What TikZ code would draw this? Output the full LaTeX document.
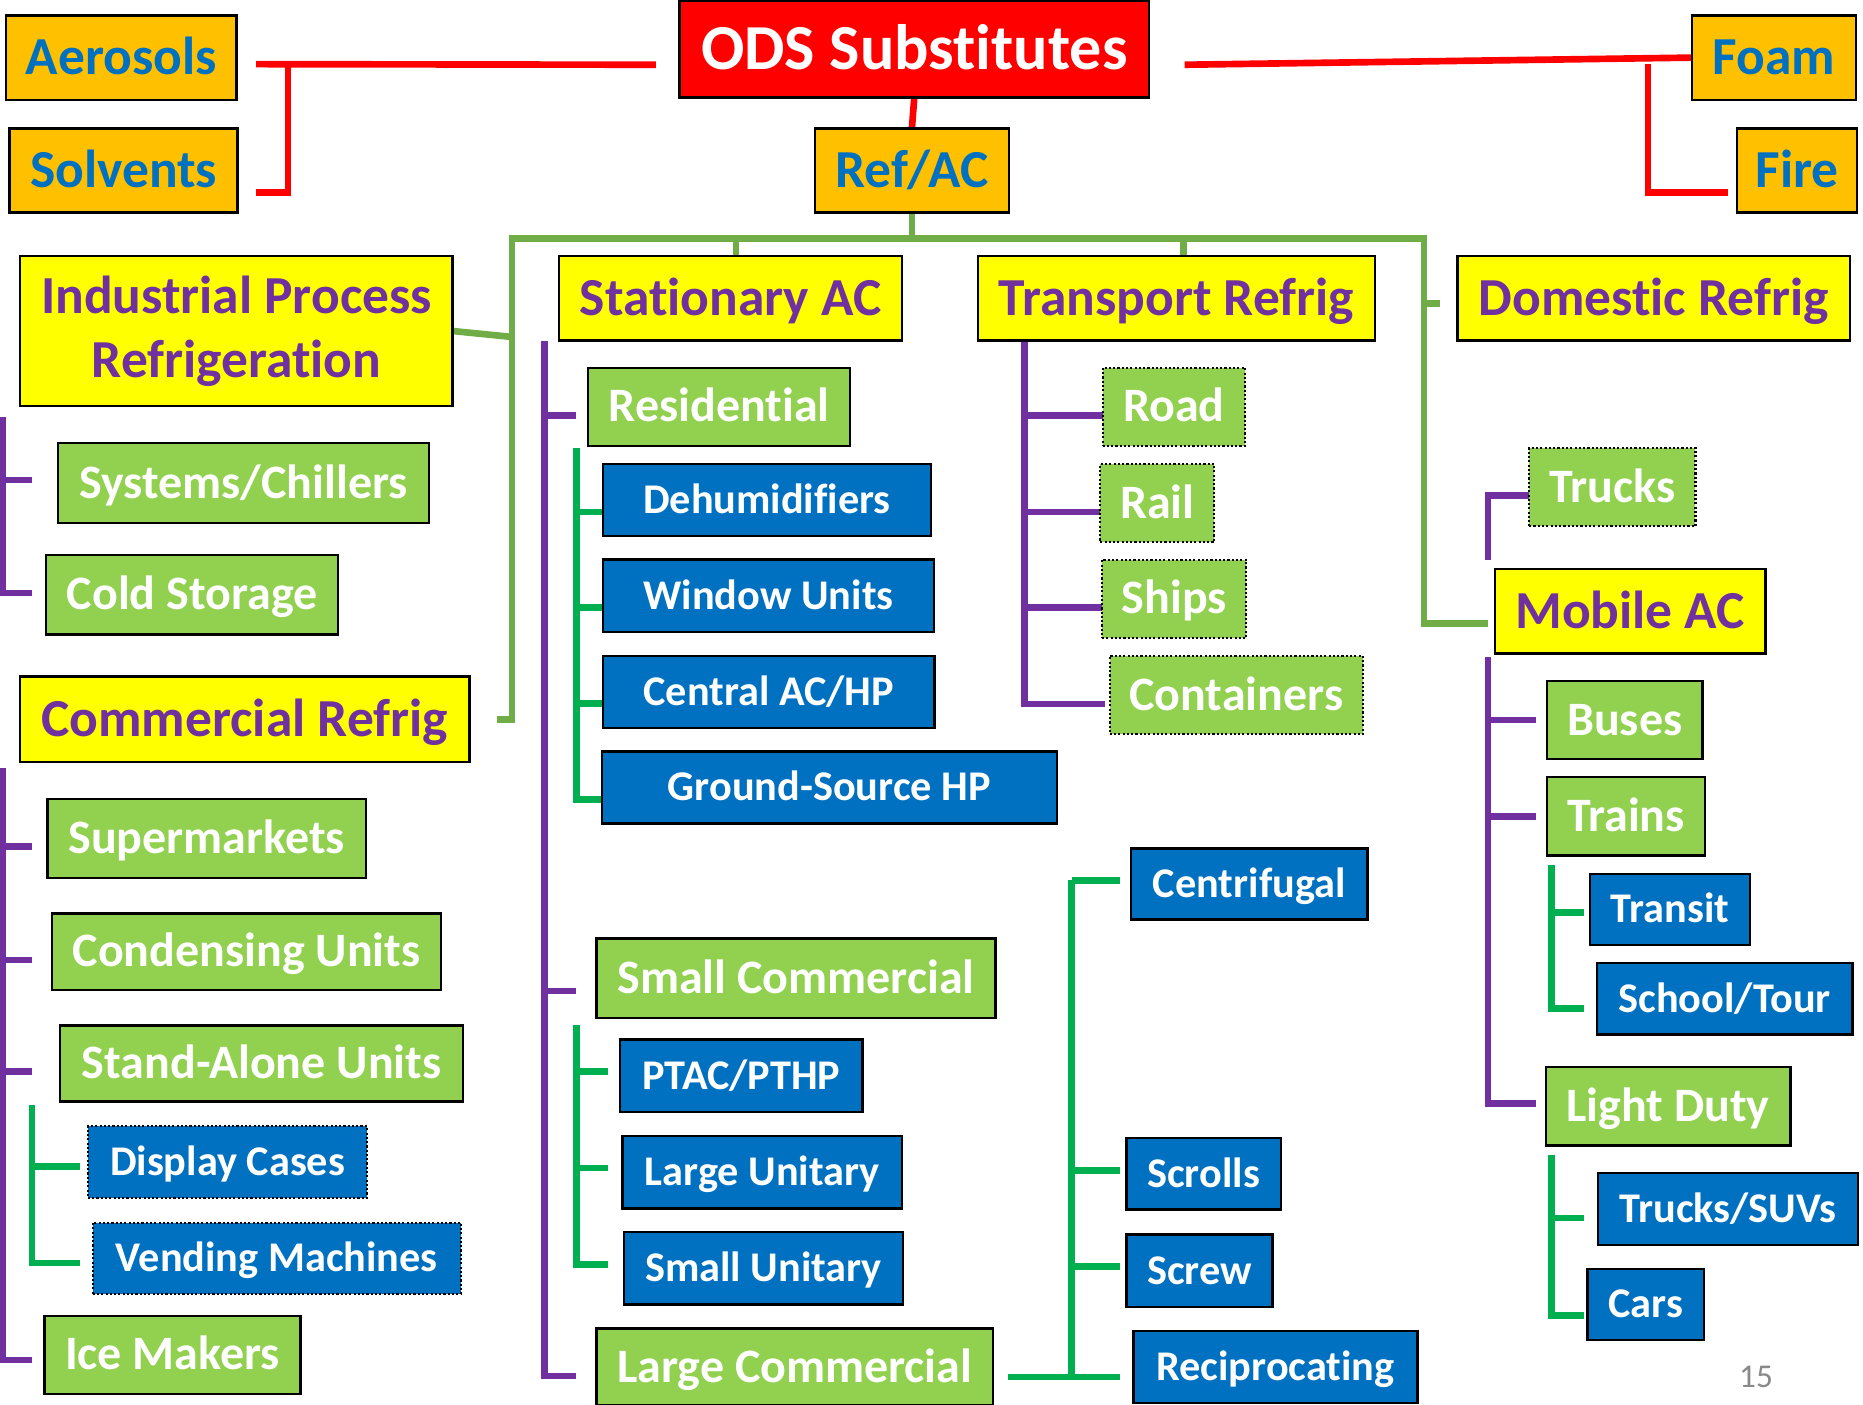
\documentclass[tikz,border=0pt]{standalone}
\usepackage{fontspec}
\setmainfont{Carlito}[Ligatures={NoCommon,NoContextual,NoRequired}]

\definecolor{orgfill}{HTML}{FFC000}
\definecolor{txtblue}{HTML}{0070C0}
\definecolor{ylwfill}{HTML}{FFFF00}
\definecolor{purp}{HTML}{7030A0}
\definecolor{grnfill}{HTML}{92D050}
\definecolor{bluefill}{HTML}{0070C0}
\definecolor{olvgreen}{HTML}{70AD47}
\definecolor{brgreen}{HTML}{00B050}
\definecolor{pagegray}{HTML}{898989}

\pgfdeclarelayer{paper}
\pgfdeclarelayer{lines}
\pgfsetlayers{paper,lines,main}

% box by its corners: style, name, x1, y1, x2, y2, text
\newcommand\bx[7]{\node[#1, minimum width={(#5-#3)*0.5pt}, minimum height={(#6-#4)*0.5pt}] (#2) at ({(#3+#5)/2},{(#4+#6)/2}) {#7};}
% stub from a bus to a child box: style, bus coordinate, child, dy, gap
\newcommand\stub[5]{\path (#3.west) ++(-#5,#4) coordinate (#3-in); \draw[#1] (#2 |- #3-in) -- (#3-in);}
% vertical bus from its top down to the last stub
\newcommand\busline[3]{\path (#2 |- #3) ++(0,2.8) coordinate (#2-end); \draw[#1] (#2) -- (#2-end);}

\tikzset{
  box/.style={draw=black, line width=1pt, inner sep=0pt, outer sep=0pt},
  dotbox/.style={dash pattern=on 0.9pt off 0.9pt, line width=0.9pt},
  odsbox/.style={box, fill=red, text=white, font=\fontsize{27}{31}\selectfont\bfseries, text height=17pt, text depth=0pt},
  orgbox/.style={box, fill=orgfill, text=txtblue, font=\fontsize{22.5}{26}\selectfont\bfseries, text height=14.2pt, text depth=0pt},
  ylwbox/.style={box, fill=ylwfill, text=purp, font=\fontsize{22.5}{27}\selectfont\bfseries, text height=14.2pt, text depth=0pt},
  ylwmulti/.style={box, fill=ylwfill, text=purp, font=\fontsize{22.5}{27}\selectfont\bfseries, align=center},
  grnbox/.style={box, fill=grnfill, text=white, font=\fontsize{20.2}{24}\selectfont\bfseries, text height=12.7pt, text depth=0pt},
  bluebox/.style={box, fill=bluefill, text=white, font=\fontsize{17.8}{21}\selectfont\bfseries, text height=11.2pt, text depth=0pt},
  conn/.style={line width=2.8pt, line join=miter},
  redln/.style={conn, draw=red},
  olvln/.style={conn, draw=olvgreen},
  purln/.style={conn, draw=purp},
  grnln/.style={conn, draw=brgreen},
}

\begin{document}
\begin{tikzpicture}[x=0.5pt, y=-0.5pt]
\begin{pgfonlayer}{paper}
\fill[white] (0,0) rectangle (1568,1182);
\end{pgfonlayer}
\useasboundingbox (0,0) rectangle (1568,1182);

% top level
\bx{odsbox}{ods}{572}{1}{967}{82}{ODS Substitutes}
\bx{orgbox}{aer}{5}{13}{199}{84}{Aerosols}
\bx{orgbox}{sol}{8}{108}{200}{179}{Solvents}
\bx{orgbox}{foam}{1424}{13}{1562}{84}{Foam}
\bx{orgbox}{fire}{1462}{108}{1563}{179}{Fire}
\bx{orgbox}{ref}{686}{108}{849}{179}{Ref/AC}

% sectors
\bx{ylwmulti}{ind}{17}{215.5}{381}{341.7}{Industrial Process\\Refrigeration}
\bx{ylwbox}{stat}{470.6}{215.5}{759}{286.7}{Stationary AC}
\bx{ylwbox}{trans}{823}{215.5}{1157}{286.7}{Transport Refrig}
\bx{ylwbox}{dom}{1226.6}{215.5}{1557}{286.7}{Domestic Refrig}
\bx{ylwbox}{crf}{17}{569.5}{395}{641.5}{Commercial Refrig}
\bx{ylwbox}{mob}{1258}{479}{1486}{550}{Mobile AC}

% end uses
\bx{grnbox}{sys}{49}{373}{361}{440}{Systems/Chillers}
\bx{grnbox}{cold}{38.7}{467}{284.7}{534}{Cold Storage}
\bx{grnbox}{sup}{40}{672.7}{308}{739}{Supermarkets}
\bx{grnbox}{cond}{44}{769}{371}{833}{Condensing Units}
\bx{grnbox}{stand}{50.7}{863}{389.6}{927}{Stand-Alone Units}
\bx{grnbox}{ice}{37.6}{1107.6}{253}{1173}{Ice Makers}
\bx{grnbox}{res}{495}{309.5}{715.5}{375.4}{Residential}
\bx{grnbox}{smc}{502}{790}{838}{857}{Small Commercial}
\bx{grnbox}{lgc}{502}{1118}{836}{1183}{Large Commercial}
\bx{grnbox,dotbox}{road}{928}{309.5}{1048}{375.4}{Road}
\bx{grnbox,dotbox}{rail}{926}{390.6}{1022}{456.4}{Rail}
\bx{grnbox,dotbox}{ships}{927.5}{471}{1049}{537}{Ships}
\bx{grnbox,dotbox}{cont}{934}{552}{1147}{618}{Containers}
\bx{grnbox,dotbox}{trk}{1287}{377}{1427}{443}{Trucks}
\bx{grnbox}{bus}{1302}{573}{1433}{639}{Buses}
\bx{grnbox}{trn}{1302}{654}{1435}{720}{Trains}
\bx{grnbox}{ld}{1301}{898}{1507}{964}{Light Duty}

% equipment
\bx{bluebox,dotbox}{disp}{74}{948}{309}{1008}{Display Cases}
\bx{bluebox,dotbox}{vend}{78}{1029}{388}{1089}{Vending Machines}
\bx{bluebox}{dehum}{507.5}{390.6}{783.5}{451}{Dehumidifiers}
\bx{bluebox}{win}{507.5}{471}{786}{532}{Window Units}
\bx{bluebox}{cac}{507.5}{552}{786.5}{612.5}{Central AC/HP}
\bx{bluebox}{gshp}{506.5}{632.6}{889.5}{693}{Ground-Source HP}
\bx{bluebox}{ptac}{522}{875}{726}{936}{PTAC/PTHP}
\bx{bluebox}{lgu}{524}{956}{759}{1017}{Large Unitary}
\bx{bluebox}{smu}{525}{1037}{760}{1098}{Small Unitary}
\bx{bluebox}{cen}{952}{714}{1151}{774}{Centrifugal}
\bx{bluebox}{scrl}{948}{958}{1078}{1018}{Scrolls}
\bx{bluebox}{scw}{948}{1039}{1071}{1100}{Screw}
\bx{bluebox}{rec}{954}{1120}{1193}{1181}{Reciprocating}
\bx{bluebox}{tst}{1338}{735.6}{1473}{795.6}{Transit}
\bx{bluebox}{sch}{1344}{810.6}{1559}{870.6}{School/Tour}
\bx{bluebox}{tsuv}{1345}{987}{1564}{1048}{Trucks/SUVs}
\bx{bluebox}{cars}{1336}{1068}{1434}{1128}{Cars}

\node[font=\fontsize{14}{16}\selectfont, text=pagegray, inner sep=0pt] (pgno) at (1478,1159) {15};

\begin{pgfonlayer}{lines}
% red: top level
\path (aer.east) ++(16.5,5.5) coordinate (aerE);
\path (ods.west) ++(-20,13) coordinate (odsW);
\draw[redln] (aerE) -- (odsW);
\path (aerE) ++(27,0) coordinate (redL);
\path (sol.east) ++(15.5,18.5) coordinate (solE);
\draw[redln] (redL) |- (solE);
\path (ods.east) ++(30,13) coordinate (odsE);
\draw[redln] (odsE) -- (foam.west);
\path (foam.west) ++(-37,5.5) coordinate (redR);
\path (fire.west) ++(-8,18.5) coordinate (fireW);
\draw[redln] (redR) |- (fireW);
\draw[redln] (ods.south) -- (ref.north);

% olive: Ref/AC sectors
\path (ref.south) ++(0,22) coordinate (oJ);
\draw[olvln] (ref.south) -- (oJ);
\path (oJ -| ind.east) ++(50,0) coordinate (oL);
\path (oJ -| trans.east) ++(41.5,0) coordinate (oR);
\path (crf.east) ++(23,0) coordinate (crfE);
\path (mob.west) ++(-5.5,10) coordinate (mobW);
\draw[olvln] (crfE) -| (oL) -- (oR) |- (mobW);
\path (stat.north) ++(4.7,0) coordinate (statN);
\draw[olvln] (statN |- oJ) -- (statN);
\path (trans.north) ++(6,0) coordinate (transN);
\draw[olvln] (transN |- oJ) -- (transN);
\path (ind.east -| oL) ++(0,5) coordinate (indJ);
\draw[olvln] (ind.east) -- (indJ);
\path (dom.west) ++(-14.6,4.5) coordinate (domW);
\draw[olvln] (domW -| oR) -- (domW);

% industrial process refrigeration
\path (ind.south west) ++(-14.5,9.3) coordinate (ib);
\stub{purln}{ib}{sys}{-2.5}{22}
\stub{purln}{ib}{cold}{-1.5}{11.7}
\busline{purln}{ib}{cold-in}

% commercial refrigeration
\path (crf.south west) ++(-14.5,5) coordinate (cb);
\stub{purln}{cb}{sup}{6.6}{13}
\stub{purln}{cb}{cond}{7}{17}
\stub{purln}{cb}{stand}{7}{24}
\stub{purln}{cb}{ice}{4.3}{10.6}
\busline{purln}{cb}{ice-in}
\path (stand.south west) ++(-23.7,3) coordinate (sb);
\stub{grnln}{sb}{disp}{4}{7}
\stub{grnln}{sb}{vend}{4}{11}
\busline{grnln}{sb}{vend-in}

% stationary AC
\path (stat.south west) ++(-12.6,0) coordinate (stb);
\stub{purln}{stb}{res}{7.5}{10}
\stub{purln}{stb}{smc}{10.5}{17}
\stub{purln}{stb}{lgc}{7.5}{17}
\busline{purln}{stb}{lgc-in}
\path (res.south west) ++(-10,2) coordinate (rb);
\stub{grnln}{rb}{dehum}{10}{0}
\stub{grnln}{rb}{win}{10}{0}
\stub{grnln}{rb}{cac}{10}{0}
\stub{grnln}{rb}{gshp}{10}{0}
\busline{grnln}{rb}{gshp-in}
\path (smc.south west) ++(-17,6) coordinate (scb);
\stub{grnln}{scb}{ptac}{-3.5}{10}
\stub{grnln}{scb}{lgu}{-3.5}{12}
\stub{grnln}{scb}{smu}{-3.5}{13}
\busline{grnln}{scb}{smu-in}
\path (cen.west) ++(-50,-3) coordinate (lcb);
\stub{grnln}{lcb}{cen}{-3}{9}
\stub{grnln}{lcb}{scrl}{-3}{5}
\stub{grnln}{lcb}{scw}{-3.5}{5}
\stub{grnln}{lcb}{rec}{8.5}{11}
\busline{grnln}{lcb}{rec-in}
\path (lgc.east) ++(12,8.5) coordinate (lgcE);
\draw[grnln] (lgcE) -- (lgcE -| lcb);

% transport refrigeration
\path (trans.south west) ++(39,0) coordinate (tb);
\stub{purln}{tb}{road}{7.5}{0}
\stub{purln}{tb}{rail}{7.5}{0}
\stub{purln}{tb}{ships}{7.5}{0}
\stub{purln}{tb}{cont}{7.6}{4}
\busline{purln}{tb}{cont-in}

% mobile AC
\path (mob.north west) ++(-5.5,-8) coordinate (mu);
\path (trk.west) ++(0,7) coordinate (trkIn);
\draw[purln] (mu) |- (trkIn);
\path (mob.south west) ++(-5.5,3) coordinate (mb);
\stub{purln}{mb}{bus}{0}{9}
\stub{purln}{mb}{trn}{0}{9}
\stub{purln}{mb}{ld}{-2}{8}
\busline{purln}{mb}{ld-in}
\path (trn.south west) ++(4,8) coordinate (tgb);
\stub{grnln}{tgb}{tst}{2.4}{5}
\stub{grnln}{tgb}{sch}{8.4}{11}
\busline{grnln}{tgb}{sch-in}
\path (ld.south west) ++(5,8) coordinate (lgb);
\stub{grnln}{lgb}{tsuv}{7.5}{12}
\stub{grnln}{lgb}{cars}{9}{3}
\busline{grnln}{lgb}{cars-in}
\end{pgfonlayer}
\end{tikzpicture}
\end{document}
